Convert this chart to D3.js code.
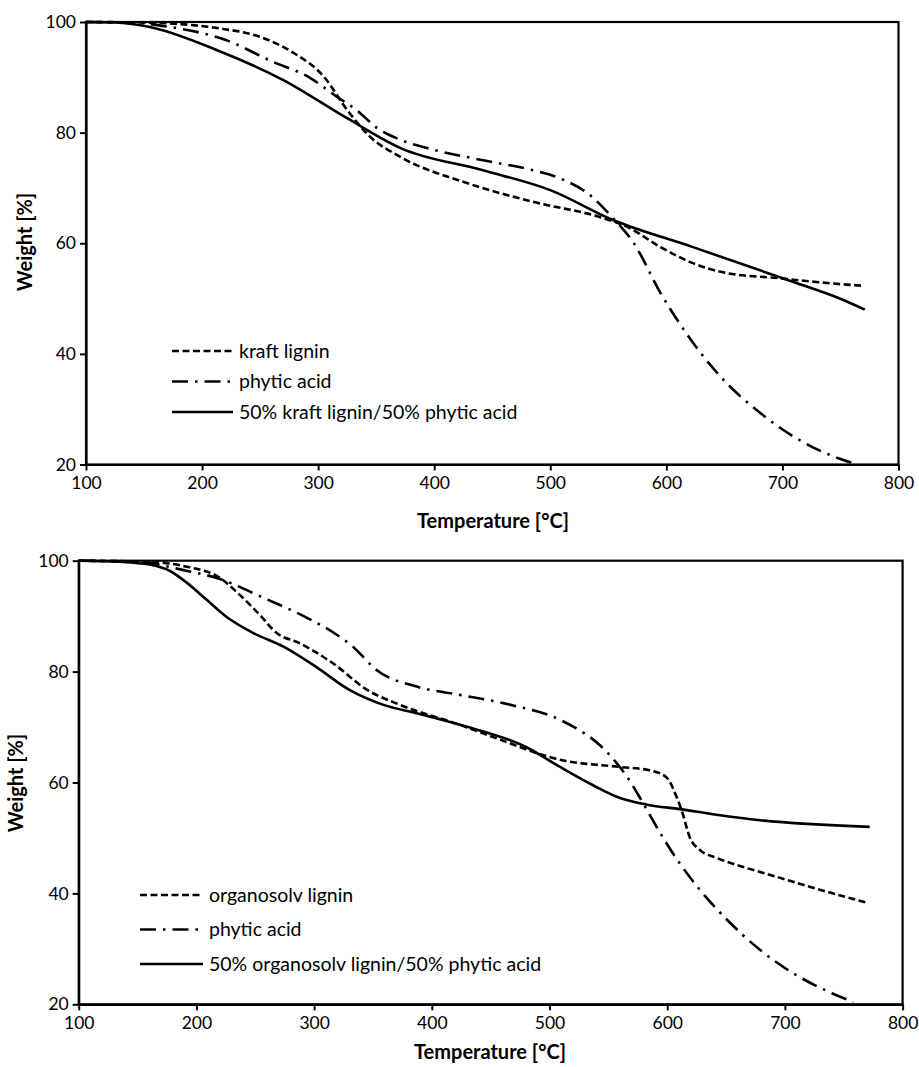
<!DOCTYPE html>
<html><head><meta charset="utf-8">
<script src="https://cdn.jsdelivr.net/npm/d3@7"></script>
<style>body{margin:0;background:#fff}svg{display:block}text{font-family:Lato,"Liberation Sans",sans-serif;fill:#000}</style>
</head><body><svg id="c" width="919" height="1067"></svg>
<script>
// ---- Data ----
const xTicks = [100, 200, 300, 400, 500, 600, 700, 800];
const yTicks = [20, 40, 60, 80, 100];

// Top panel: kraft lignin
const kraftT = [100,150,213,250,279,305,325,345,371,428,485,543,566,595,623,652,696,739,770];
const kraftW = [100,99.9,98.9,97.3,94.4,90.1,84.1,79.2,75.6,70.9,67.5,64.7,63,59.3,56.4,54.6,53.7,52.8,52.3];
const phyticT1 = [100,140,172,221,261,293,316,333,351,371,394,442,485,510,533,552,572,595,623,652,681,710,740,760];
const phyticW1 = [100,99.9,99.1,96.7,92.8,89.9,86.5,84.1,80.8,78.7,77.2,75,73.2,71.6,68.9,65,60,51,42,34.7,29.3,25,21.8,20.3];
const kraftMixT = [100,125,155,213,270,325,371,442,500,554,623,704,753,771];
const kraftMixW = [100,99.9,99.1,94.9,89.5,82.6,77.2,73.2,69.6,64.2,59.3,53.4,49.7,48];

// Bottom panel: organosolv lignin
const orgT = [100,160,192,220,234,254,268,288,316,345,373,424,452,509,560,585,599,608,613,619,628,642,664,693,721,770];
const orgW = [100,99.8,98.9,96.9,94.4,90.2,87,85.1,81.5,76.7,74,70.4,68.2,64.1,62.8,62.2,61,57.4,54.5,50.2,47.8,46.4,44.8,43,41.2,38.3];
const phyticT2 = [100,150,189,220,257,294,316,333,353,387,424,467,509,551,566,577,591,604,619,651,679,707,740,758];
const phyticW2 = [100,99.8,98.3,96.7,93.3,89.7,87.1,84.5,80.3,77.3,75.8,74,71.3,65,61,57.2,52,47.5,43,35.2,29.8,25.6,22,20.4];
const orgMixT = [100,135,160,178,192,209,226,248,274,302,330,359,387,424,480,509,537,560,583,611,645,679,772];
const orgMixW = [100,99.8,99.3,98.1,96,92.9,89.8,87,84.5,80.8,76.7,74,72.5,70.4,66.4,62.8,59.5,57.2,56,55.2,54.1,53.2,52];

const legend1 = ["kraft lignin", "phytic acid", "50% kraft lignin/50% phytic acid"];
const legend2 = ["organosolv lignin", "phytic acid", "50% organosolv lignin/50% phytic acid"];

const styles = ["7,3.5", "16,7,2.5,7", null];

const svg = d3.select("#c");

function panel(box, series, labels, leg, ylab, xlab) {
  const x = d3.scaleLinear().domain([100, 800]).range([box.l, box.r]);
  const y = d3.scaleLinear().domain([20, 100]).range([box.b, box.t]);
  const g = svg.append("g");
  g.append("rect").attr("x", box.l).attr("y", box.t).attr("width", box.r - box.l).attr("height", box.b - box.t)
    .attr("fill", "none").attr("stroke", "#000").attr("stroke-width", 2.2);
  const xa = g.append("g").attr("transform", `translate(0,${box.b})`)
    .call(d3.axisBottom(x).tickValues(xTicks).tickSize(6).tickSizeOuter(0).tickPadding(6));
  const ya = g.append("g").attr("transform", `translate(${box.l},0)`)
    .call(d3.axisLeft(y).tickValues(yTicks).tickSize(6).tickSizeOuter(0).tickPadding(4));
  [xa, ya].forEach(a => {
    a.select(".domain").attr("stroke-width", 2.2);
    a.selectAll(".tick line").attr("stroke-width", 2);
    a.selectAll(".tick text").style("font-size", "17.5px").style("font-family", "Lato");
  });
  const line = d3.line().x(d => x(d[0])).y(d => y(d[1])).curve(d3.curveMonotoneX);
  series.forEach((s, i) => {
    const pts = s[0].map((t, k) => [t, s[1][k]]);
    g.append("path").attr("d", line(pts)).attr("fill", "none").attr("stroke", "#000")
      .attr("stroke-width", 2.6).attr("stroke-dasharray", styles[i]);
  });
  labels.forEach((lab, i) => {
    const yy = leg.y + i * leg.dy;
    g.append("line").attr("x1", leg.x).attr("x2", leg.x + leg.w).attr("y1", yy).attr("y2", yy)
      .attr("stroke", "#000").attr("stroke-width", 2.6).attr("stroke-dasharray", styles[i]);
    g.append("text").attr("x", leg.x + leg.w + 6).attr("y", yy).attr("dy", "0.35em")
      .style("font-size", "19.5px").text(lab);
  });
  g.append("text").attr("transform", `translate(${ylab.x},${ylab.y}) rotate(-90)`).attr("text-anchor", "middle")
    .style("font-size", "20px").style("font-weight", "bold").text("Weight [%]");
  g.append("text").attr("x", xlab.x).attr("y", xlab.y).attr("text-anchor", "middle")
    .style("font-size", "20px").style("font-weight", "bold").text("Temperature [°C]");
}

panel({l: 86, r: 898.5, t: 22, b: 464.5},
  [[kraftT, kraftW], [phyticT1, phyticW1], [kraftMixT, kraftMixW]],
  legend1, {x: 172, w: 61, y: 351, dy: 30.5}, {x: 32, y: 242}, {x: 493, y: 528});

panel({l: 78.7, r: 902.6, t: 560.7, b: 1004.3},
  [[orgT, orgW], [phyticT2, phyticW2], [orgMixT, orgMixW]],
  legend2, {x: 140, w: 63, y: 895, dy: 34.5}, {x: 23, y: 783}, {x: 490, y: 1059});
</script></body></html>
